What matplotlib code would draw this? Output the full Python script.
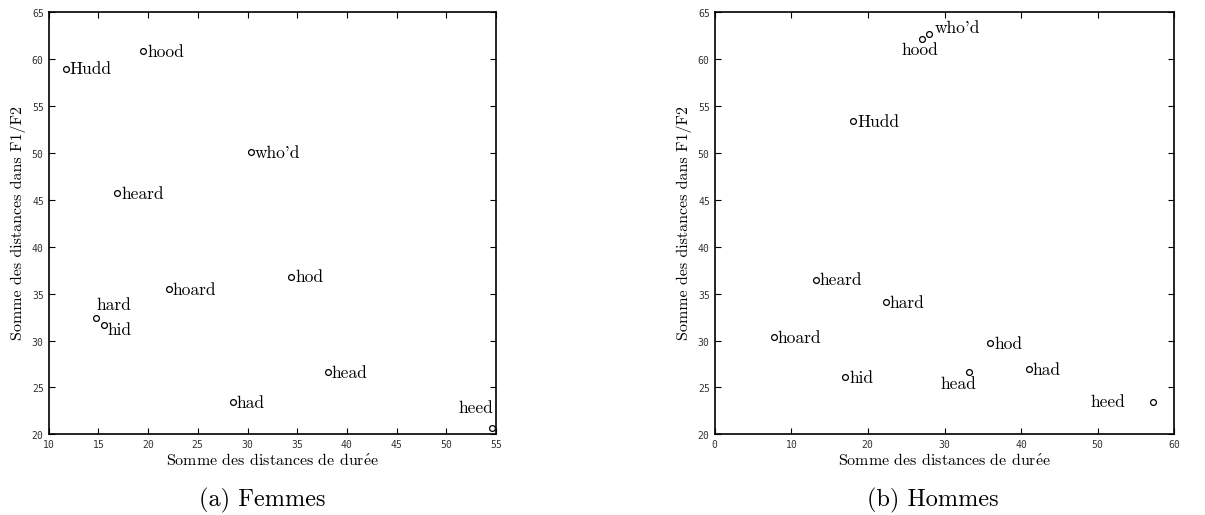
import matplotlib
matplotlib.use("Agg")
import matplotlib.pyplot as plt

# ---- data ----
words_f = ["hood", "Hudd", "who'd", "heard", "hod", "hoard", "hard", "hid", "head", "had", "heed"]
dur_f = [19.5, 11.7, 30.35, 16.9, 34.4, 22.1, 14.8, 15.6, 38.05, 28.5, 54.6]
f12_f = [60.85, 59.0, 50.1, 45.7, 36.8, 35.5, 32.4, 31.7, 26.65, 23.4, 20.7]

words_m = ["who'd", "hood", "Hudd", "heard", "hard", "hoard", "hod", "hid", "head", "had", "heed"]
dur_m = [28.0, 27.0, 18.1, 13.2, 22.3, 7.7, 36.0, 17.05, 33.15, 41.0, 57.2]
f12_m = [62.65, 62.1, 53.4, 36.5, 34.1, 30.35, 29.7, 26.1, 26.65, 26.95, 23.4]

xticks_f = [10, 15, 20, 25, 30, 35, 40, 45, 50, 55]
xticks_m = [0, 10, 20, 30, 40, 50, 60]
yticks = [20, 25, 30, 35, 40, 45, 50, 55, 60, 65]

xlabel = r"Somme des distances de dur$\acute{\mathrm{e}}$e"
ylabel = "Somme des distances dans F1/F2"
captions = ["(a) Femmes", "(b) Hommes"]

# ---- label placement (pixels offset, alignment) ----
default_place = (4, -1, "left")
place_f = {"hard": (17, 13, "center"), "hid": (3, -6, "left"), "heed": (1, 19, "right")}
place_m = {"hood": (-2, -11, "center"), "who'd": (6, 6, "left"),
           "head": (-10, -12, "center"), "heed": (-28, 0, "right")}

SERIF = "cmr10"
plt.rcParams["axes.formatter.use_mathtext"] = True
plt.rcParams["mathtext.fontset"] = "cm"

fig = plt.figure(figsize=(12.05, 5.15), dpi=100)
W, H = 1205, 515
ax_f = fig.add_axes([48.7 / W, 1 - 434.3 / H, (496 - 48.7) / W, (434.3 - 12.3) / H])
ax_m = fig.add_axes([714.7 / W, 1 - 434.3 / H, (1174.3 - 714.7) / W, (434.3 - 12.3) / H])


def draw(ax, words, xs, ys, place, xlim, xticks):
    ax.plot(xs, ys, linestyle="none", marker="o", markersize=4.2,
            markerfacecolor="none", markeredgecolor="black", markeredgewidth=0.9)
    for w, x, y in zip(words, xs, ys):
        dx, dy, ha = place.get(w, default_place)
        ax.annotate(w, (x, y), xytext=(dx * 0.72, dy * 0.72), textcoords="offset points",
                    ha=ha, va="center", fontsize=12.5, family=SERIF)
    ax.set_xlim(*xlim)
    ax.set_ylim(20, 65)
    ax.set_xticks(xticks)
    ax.set_yticks(yticks)
    ax.tick_params(direction="in", top=True, right=True, length=4, width=0.8,
                   labelsize=7, colors="black", pad=3)
    for lab in ax.get_xticklabels() + ax.get_yticklabels():
        lab.set_family("DejaVu Sans Mono")
        lab.set_color("#333333")
    for s in ax.spines.values():
        s.set_linewidth(1.2)
    ax.set_xlabel(xlabel, family=SERIF, fontsize=11.5, labelpad=1)
    ax.set_ylabel(ylabel, family=SERIF, fontsize=11.5, labelpad=4)


draw(ax_f, words_f, dur_f, f12_f, place_f, (10, 55), xticks_f)
draw(ax_m, words_m, dur_m, f12_m, place_m, (0, 60), xticks_m)

fig.text(262 / W, 1 - 500 / H, captions[0], ha="center", va="center", fontsize=17.5, family=SERIF)
fig.text(933 / W, 1 - 500 / H, captions[1], ha="center", va="center", fontsize=17.5, family=SERIF)

fig.savefig("out.png", dpi=100)
